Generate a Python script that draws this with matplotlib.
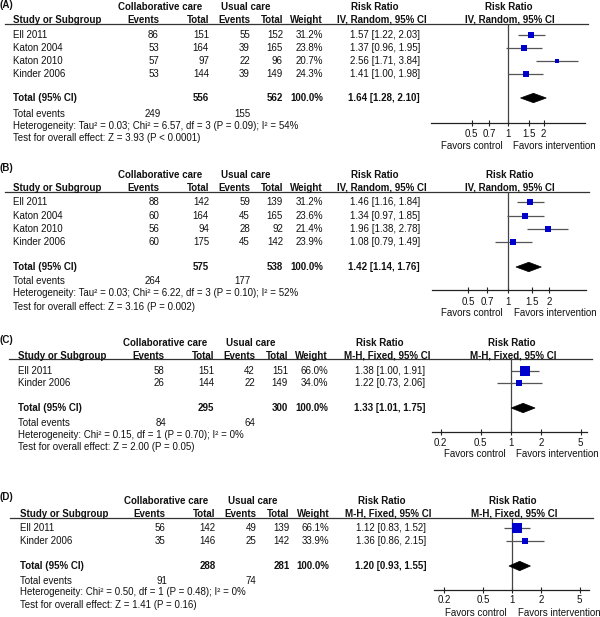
import numpy as np
import matplotlib
matplotlib.use("Agg")
import matplotlib.pyplot as plt
from matplotlib.patches import Polygon
from matplotlib.ticker import NullLocator

plt.rcParams['font.family'] = ['Liberation Sans', 'DejaVu Sans']

# ------------------------- data -------------------------
A_studies = ["Ell 2011", "Katon 2004", "Katon 2010", "Kinder 2006"]
A_cc_events = [86, 53, 57, 53]
A_cc_total = [151, 164, 97, 144]
A_uc_events = [55, 39, 22, 39]
A_uc_total = [152, 165, 96, 149]
A_weight = [31.2, 23.8, 20.7, 24.3]
A_rr = [1.57, 1.37, 2.56, 1.41]
A_lo = [1.22, 0.96, 1.71, 1.00]
A_hi = [2.03, 1.95, 3.84, 1.98]
A_pooled = [1.64, 1.28, 2.10]
A_totals = [556, 562]
A_tot_events = [249, 155]
A_het = "Heterogeneity: Tau\u00b2 = 0.03; Chi\u00b2 = 6.57, df = 3 (P = 0.09); I\u00b2 = 54%"
A_test = "Test for overall effect: Z = 3.93 (P < 0.0001)"
A_method = "IV, Random, 95% CI"
A_ticks = [0.5, 0.7, 1, 1.5, 2]
A_ticklabels = ["0.5", "0.7", "1", "1.5", "2"]

B_studies = ["Ell 2011", "Katon 2004", "Katon 2010", "Kinder 2006"]
B_cc_events = [88, 60, 56, 60]
B_cc_total = [142, 164, 94, 175]
B_uc_events = [59, 45, 28, 45]
B_uc_total = [139, 165, 92, 142]
B_weight = [31.2, 23.6, 21.4, 23.9]
B_rr = [1.46, 1.34, 1.96, 1.08]
B_lo = [1.16, 0.97, 1.38, 0.79]
B_hi = [1.84, 1.85, 2.78, 1.49]
B_pooled = [1.42, 1.14, 1.76]
B_totals = [575, 538]
B_tot_events = [264, 177]
B_het = "Heterogeneity: Tau\u00b2 = 0.03; Chi\u00b2 = 6.22, df = 3 (P = 0.10); I\u00b2 = 52%"
B_test = "Test for overall effect: Z = 3.16 (P = 0.002)"
B_method = "IV, Random, 95% CI"
B_ticks = [0.5, 0.7, 1, 1.5, 2]
B_ticklabels = ["0.5", "0.7", "1", "1.5", "2"]

C_studies = ["Ell 2011", "Kinder 2006"]
C_cc_events = [58, 26]
C_cc_total = [151, 144]
C_uc_events = [42, 22]
C_uc_total = [151, 149]
C_weight = [66.0, 34.0]
C_rr = [1.38, 1.22]
C_lo = [1.00, 0.73]
C_hi = [1.91, 2.06]
C_pooled = [1.33, 1.01, 1.75]
C_totals = [295, 300]
C_tot_events = [84, 64]
C_het = "Heterogeneity: Chi\u00b2 = 0.15, df = 1 (P = 0.70); I\u00b2 = 0%"
C_test = "Test for overall effect: Z = 2.00 (P = 0.05)"
C_method = "M-H, Fixed, 95% CI"
C_ticks = [0.2, 0.5, 1, 2, 5]
C_ticklabels = ["0.2", "0.5", "1", "2", "5"]

D_studies = ["Ell 2011", "Kinder 2006"]
D_cc_events = [56, 35]
D_cc_total = [142, 146]
D_uc_events = [49, 25]
D_uc_total = [139, 142]
D_weight = [66.1, 33.9]
D_rr = [1.12, 1.36]
D_lo = [0.83, 0.86]
D_hi = [1.52, 2.15]
D_pooled = [1.20, 0.93, 1.55]
D_totals = [288, 281]
D_tot_events = [91, 74]
D_het = "Heterogeneity: Chi\u00b2 = 0.50, df = 1 (P = 0.48); I\u00b2 = 0%"
D_test = "Test for overall effect: Z = 1.41 (P = 0.16)"
D_method = "M-H, Fixed, 95% CI"
D_ticks = [0.2, 0.5, 1, 2, 5]
D_ticklabels = ["0.2", "0.5", "1", "2", "5"]

TOTAL_WEIGHT = "100.0%"

# ------------------------- layout -------------------------
W, H = 600, 617
FS = 7
TXT = '#111111'
BLUE = '#0000cc'

layouts = {
    'A': dict(dx=0, line=24, label=4.5, grp=7.5, hdr=20, rows=[35, 48, 61, 74], total=98,
              events=114, het=126, test=138, axis=123, ticklab=134, favors=146,
              x0=431, x1=585, one=507.7, ppl=52.0, lx0=5, lx1=588),
    'B': dict(dx=0, line=192, label=168, grp=175, hdr=188, rows=[202, 216, 229, 242], total=267,
              events=281, het=293, test=307, axis=290, ticklab=302, favors=313,
              x0=432, x1=585.7, one=508.3, ppl=58.4, lx0=5, lx1=589),
    'C': dict(dx=5, line=359, label=340, grp=343, hdr=356, rows=[371, 383], total=408,
              events=423, het=435, test=447, axis=432, ticklab=443, favors=454,
              x0=432, x1=587, one=510.7, ppl=43.5, lx0=9, lx1=592),
    'D': dict(dx=6.5, line=518, label=497, grp=501, hdr=514, rows=[528, 541], total=566,
              events=581, het=592, test=605, axis=590, ticklab=600, favors=613,
              x0=434, x1=588.7, one=512, ppl=42.0, lx0=10, lx1=593),
}

panels = [
    ('A', A_studies, A_cc_events, A_cc_total, A_uc_events, A_uc_total, A_weight, A_rr, A_lo, A_hi,
     A_pooled, A_totals, A_tot_events, A_het, A_test, A_method, A_ticks, A_ticklabels),
    ('B', B_studies, B_cc_events, B_cc_total, B_uc_events, B_uc_total, B_weight, B_rr, B_lo, B_hi,
     B_pooled, B_totals, B_tot_events, B_het, B_test, B_method, B_ticks, B_ticklabels),
    ('C', C_studies, C_cc_events, C_cc_total, C_uc_events, C_uc_total, C_weight, C_rr, C_lo, C_hi,
     C_pooled, C_totals, C_tot_events, C_het, C_test, C_method, C_ticks, C_ticklabels),
    ('D', D_studies, D_cc_events, D_cc_total, D_uc_events, D_uc_total, D_weight, D_rr, D_lo, D_hi,
     D_pooled, D_totals, D_tot_events, D_het, D_test, D_method, D_ticks, D_ticklabels),
]

fig = plt.figure(figsize=(W / 100, H / 100), dpi=100)
fig.patch.set_facecolor('white')
ov = fig.add_axes([0, 0, 1, 1])
ov.set_xlim(0, W)
ov.set_ylim(H, 0)
ov.axis('off')
ov.patch.set_alpha(0)


def t(x, y, s, ha='left', bold=False, **kw):
    ov.text(x, y, s, ha=ha, va='center', fontsize=FS, color=TXT,
            fontweight='bold' if bold else 'normal', **kw)


for (key, studies, cce, cct, uce, uct, wt, rr, lo, hi, pooled, totals, tev,
     het, test, method, ticks, ticklabels) in panels:
    L = layouts[key]
    dx = L['dx']
    c_name = 13 + dx
    c_ev1, c_tot1, c_ev2, c_tot2 = 159 + dx, 209 + dx, 250 + dx, 283 + dx
    c_w, c_rr = 323 + dx, 420 + dx

    # headers
    t(0, L['label'], f"({key})", bold=True)
    t(160 + dx, L['grp'], "Collaborative care", ha='center', bold=True)
    t(246 + dx, L['grp'], "Usual care", ha='center', bold=True)
    t(375 + dx, L['grp'], "Risk Ratio", ha='center', bold=True)
    t(L['one'] + 1, L['grp'], "Risk Ratio", ha='center', bold=True)
    t(c_name, L['hdr'], "Study or Subgroup", bold=True)
    t(c_ev1, L['hdr'], "Events", ha='right', bold=True)
    t(c_tot1, L['hdr'], "Total", ha='right', bold=True)
    t(c_ev2, L['hdr'], "Events", ha='right', bold=True)
    t(c_tot2, L['hdr'], "Total", ha='right', bold=True)
    t(c_w, L['hdr'], "Weight", ha='right', bold=True)
    t(382 + dx, L['hdr'], method, ha='center', bold=True)
    t(L['one'] + 2, L['hdr'], method, ha='center', bold=True)
    ov.plot([L['lx0'], L['lx1']], [L['line'], L['line']], color='#333333', lw=0.9)

    # study rows
    for i, y in enumerate(L['rows']):
        t(c_name, y, studies[i])
        t(c_ev1, y, str(cce[i]), ha='right')
        t(c_tot1, y, str(cct[i]), ha='right')
        t(c_ev2, y, str(uce[i]), ha='right')
        t(c_tot2, y, str(uct[i]), ha='right')
        t(c_w, y, f"{wt[i]:.1f}%", ha='right')
        t(c_rr, y, f"{rr[i]:.2f} [{lo[i]:.2f}, {hi[i]:.2f}]", ha='right')

    # totals
    t(c_name, L['total'], "Total (95% CI)", bold=True)
    t(c_tot1, L['total'], str(totals[0]), ha='right', bold=True)
    t(c_tot2, L['total'], str(totals[1]), ha='right', bold=True)
    t(c_w, L['total'], TOTAL_WEIGHT, ha='right', bold=True)
    t(c_rr, L['total'], f"{pooled[0]:.2f} [{pooled[1]:.2f}, {pooled[2]:.2f}]", ha='right', bold=True)
    t(c_name, L['events'], "Total events")
    t(c_ev1 + 2, L['events'], str(tev[0]), ha='right')
    t(c_ev2, L['events'], str(tev[1]), ha='right')
    t(c_name, L['het'], het)
    t(c_name, L['test'], test)

    # forest axes (y data unit = pixel)
    ax = fig.add_axes([L['x0'] / W, 1 - L['axis'] / H,
                       (L['x1'] - L['x0']) / W, (L['axis'] - L['line']) / H])
    ax.patch.set_alpha(0)
    ax.set_xscale('log')
    ax.set_xlim(np.exp((L['x0'] - L['one']) / L['ppl']),
                np.exp((L['x1'] - L['one']) / L['ppl']))
    ax.set_ylim(L['axis'], L['line'])
    for s in ['top', 'left', 'right']:
        ax.spines[s].set_visible(False)
    ax.spines['bottom'].set_color('#222222')
    ax.spines['bottom'].set_linewidth(0.9)
    ax.set_yticks([])
    ax.set_xticks(ticks)
    ax.set_xticklabels([])
    ax.xaxis.set_minor_locator(NullLocator())
    ax.tick_params(axis='x', direction='inout', length=4.5, width=0.8, color='#222222')
    for tk, tl in zip(ticks, ticklabels):
        ax.text(tk, L['ticklab'], tl, ha='center', va='center', fontsize=FS,
                color=TXT, clip_on=False)
    ax.annotate("Favors control", xy=(1, L['favors']), xytext=(-4, 0),
                textcoords='offset points', ha='right', va='center', fontsize=FS,
                color=TXT, annotation_clip=False)
    ax.annotate("Favors intervention", xy=(1, L['favors']), xytext=(4, 0),
                textcoords='offset points', ha='left', va='center', fontsize=FS,
                color=TXT, annotation_clip=False)

    ax.vlines(1, L['line'], L['axis'], color='#444444', lw=0.9)
    ax.hlines(L['rows'], lo, hi, color='#555555', lw=0.9, zorder=2)
    for i, y in enumerate(L['rows']):
        side_px = 2.3 + 0.13 * wt[i]
        ax.plot(rr[i], y, marker='s', markersize=side_px * 0.72, color=BLUE,
                markeredgewidth=0, zorder=3)
    h = 4.7
    yt = L['total']
    ax.add_patch(Polygon([(pooled[1], yt), (pooled[0], yt - h), (pooled[2], yt),
                          (pooled[0], yt + h)], closed=True, facecolor='black',
                         edgecolor='black', lw=0.5, zorder=3))

fig.savefig('out.png', dpi=100, facecolor='white')
